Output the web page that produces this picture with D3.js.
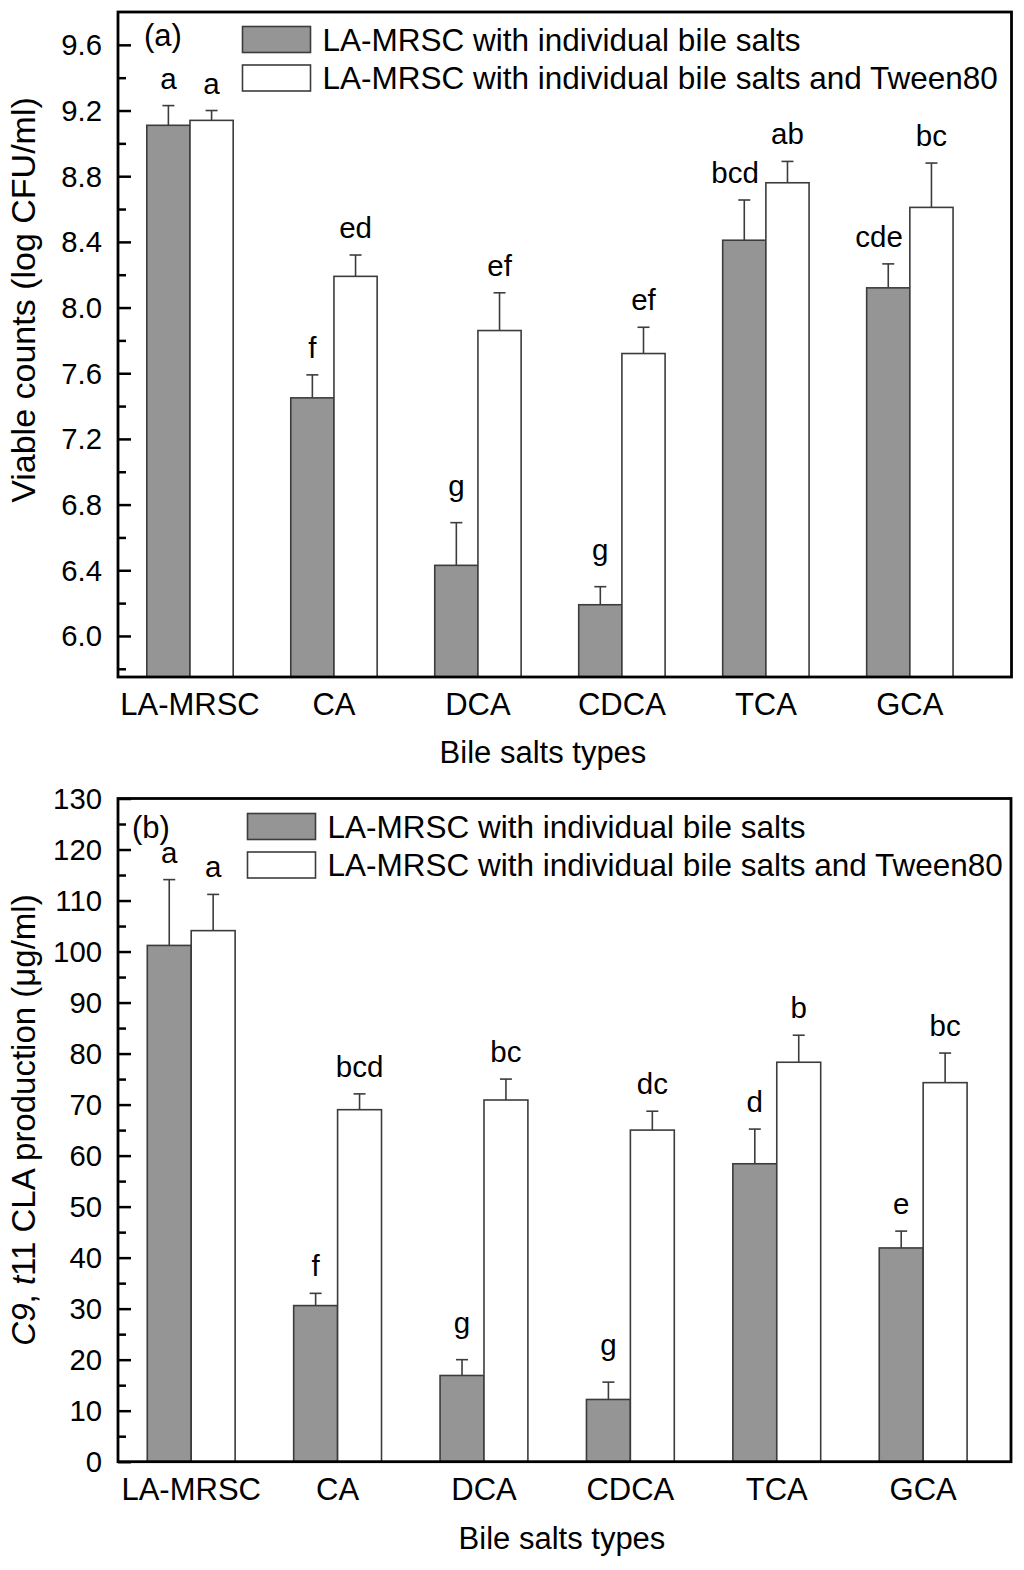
<!DOCTYPE html>
<html>
<head>
<meta charset="utf-8">
<script src="https://cdn.jsdelivr.net/npm/d3@7"></script>
<style>
  html, body { margin: 0; padding: 0; background: #fff; }
  svg { display: block; font-family: "Liberation Sans", Arial, sans-serif; }
</style>
</head>
<body>
<svg id="chart" width="1024" height="1570"></svg>
<script>
// ---------- data ----------
const categories = ["LA-MRSC", "CA", "DCA", "CDCA", "TCA", "GCA"];
const seriesNames = ["LA-MRSC with individual bile salts", "LA-MRSC with individual bile salts and Tween80"];

// panel (a): viable counts (log CFU/ml)
const viableBile      = [9.11, 7.45, 6.43, 6.19, 8.41, 8.12];
const viableBileErr   = [0.12, 0.14, 0.26, 0.11, 0.245, 0.146];
const viableTween     = [9.14, 8.19, 7.86, 7.72, 8.76, 8.61];
const viableTweenErr  = [0.06, 0.13, 0.23, 0.16, 0.13, 0.27];
const viableBileLetters  = ["a", "f", "g", "g", "bcd", "cde"];
const viableTweenLetters = ["a", "ed", "ef", "ef", "ab", "bc"];
const viableTicks = [6.0, 6.4, 6.8, 7.2, 7.6, 8.0, 8.4, 8.8, 9.2, 9.6];

// panel (b): c9,t11 CLA production (ug/ml)
const claBile      = [101.2, 30.6, 16.9, 12.2, 58.4, 41.9];
const claBileErr   = [12.9, 2.4, 3.1, 3.4, 6.8, 3.3];
const claTween     = [104.1, 69.0, 70.9, 65.0, 78.3, 74.3];
const claTweenErr  = [7.1, 3.1, 4.1, 3.7, 5.3, 5.8];
const claBileLetters  = ["a", "f", "g", "g", "d", "e"];
const claTweenLetters = ["a", "bcd", "bc", "dc", "b", "bc"];
const claTicks = [0, 10, 20, 30, 40, 50, 60, 70, 80, 90, 100, 110, 120, 130];

// ---------- drawing ----------
const svg = d3.select("#chart");
const GRAY = "#959595";
const EDGE = "#3c3c3c";

function panel(cfg) {
  const g = svg.append("g");
  const x = d3.scaleLinear().domain(cfg.xDomain).range([cfg.left, cfg.right]);
  const y = d3.scaleLinear().domain(cfg.yDomain).range([cfg.bottom, cfg.top]);
  const bw = x(0.3) - x(0);

  const series = [
    {vals: cfg.bile, errs: cfg.bileErr, letters: cfg.bileLetters, fill: GRAY, off: -1},
    {vals: cfg.tween, errs: cfg.tweenErr, letters: cfg.tweenLetters, fill: "#ffffff", off: 0}
  ];

  series.forEach(s => {
    const data = categories.map((c, i) => ({i, v: s.vals[i], e: s.errs[i], l: s.letters[i]}));
    const x0 = d => x(d.i + 1) + s.off * bw;
    // error bars (upper only)
    g.selectAll(null).data(data).enter().append("line")
      .attr("x1", d => x0(d) + bw / 2).attr("x2", d => x0(d) + bw / 2)
      .attr("y1", d => y(d.v)).attr("y2", d => y(d.v + d.e))
      .attr("stroke", EDGE).attr("stroke-width", 1.6);
    g.selectAll(null).data(data).enter().append("line")
      .attr("x1", d => x0(d) + bw / 2 - 6).attr("x2", d => x0(d) + bw / 2 + 6)
      .attr("y1", d => y(d.v + d.e)).attr("y2", d => y(d.v + d.e))
      .attr("stroke", EDGE).attr("stroke-width", 1.6);
    // bars
    g.selectAll(null).data(data).enter().append("rect")
      .attr("x", d => x0(d)).attr("width", bw)
      .attr("y", d => y(d.v)).attr("height", d => y(cfg.yDomain[0]) - y(d.v))
      .attr("fill", s.fill).attr("stroke", EDGE).attr("stroke-width", 1.6);
    // letters
    g.selectAll(null).data(data).enter().append("text")
      .attr("x", d => x0(d) + bw / 2)
      .attr("y", d => y(d.v + d.e) - (/[gpqy]/.test(d.l) ? 27 : 17))
      .attr("text-anchor", "middle").attr("font-size", 29.5).attr("fill", "#000")
      .text(d => d.l)
      .each(function(d) {
        if (s.off < 0) {
          const w = this.getComputedTextLength();
          const cx = Math.min(x0(d) + bw / 2, x0(d) + bw - 7 - w / 2);
          d3.select(this).attr("x", cx);
        }
      });
  });

  // y axis ticks (inward)
  const yAxis = d3.axisRight(y).tickValues(cfg.ticks).tickSize(13).tickFormat("");
  g.append("g").attr("transform", `translate(${cfg.left},0)`).call(yAxis)
    .call(a => a.select(".domain").remove())
    .call(a => a.selectAll("line").attr("stroke", "#000").attr("stroke-width", 2.5));
  const minorAxis = d3.axisRight(y).tickValues(cfg.minor).tickSize(8).tickFormat("");
  g.append("g").attr("transform", `translate(${cfg.left},0)`).call(minorAxis)
    .call(a => a.select(".domain").remove())
    .call(a => a.selectAll("line").attr("stroke", "#000").attr("stroke-width", 2.5));
  // tick labels
  g.selectAll(null).data(cfg.ticks).enter().append("text")
    .attr("x", cfg.left - 16).attr("y", d => y(d)).attr("dy", "0.36em")
    .attr("text-anchor", "end").attr("font-size", 29.3).text(d => cfg.fmt(d));

  // frame
  g.append("rect").attr("x", cfg.left).attr("y", cfg.top)
    .attr("width", cfg.right - cfg.left).attr("height", cfg.bottom - cfg.top)
    .attr("fill", "none").attr("stroke", "#000").attr("stroke-width", 2.8);

  // category labels
  g.selectAll(null).data(categories).enter().append("text")
    .attr("x", (d, i) => x(i + 1)).attr("y", cfg.catY)
    .attr("text-anchor", "middle").attr("font-size", 31).text(d => d);

  // x title
  g.append("text").attr("x", cfg.xTitleX).attr("y", cfg.xTitleY)
    .attr("text-anchor", "middle").attr("font-size", 31).text("Bile salts types");

  // y title
  const yt = g.append("text").attr("transform", `translate(${cfg.yTitleX},${cfg.yTitleY}) rotate(-90)`)
    .attr("text-anchor", "middle").attr("font-size", cfg.yTitleSize);
  cfg.yTitle.forEach(p => yt.append("tspan").attr("font-style", p.it ? "italic" : "normal").text(p.t));

  // panel label
  g.append("text").attr("x", cfg.tagX).attr("y", cfg.tagY).attr("font-size", 31).text(cfg.tag);

  // legend
  [GRAY, "#ffffff"].forEach((f, k) => {
    const ly = cfg.legY + k * cfg.legGap;
    g.append("rect").attr("x", cfg.legX).attr("y", ly).attr("width", 68).attr("height", 26)
      .attr("fill", f).attr("stroke", EDGE).attr("stroke-width", 1.6);
    g.append("text").attr("x", cfg.legX + 80).attr("y", ly + 13).attr("dy", "0.36em")
      .attr("font-size", 31.5).text(seriesNames[k]);
  });
}

panel({
  left: 118, right: 1011.5, top: 12, bottom: 677,
  xDomain: [0.5, 6.706], yDomain: [5.75, 9.8],
  bile: viableBile, bileErr: viableBileErr, bileLetters: viableBileLetters,
  tween: viableTween, tweenErr: viableTweenErr, tweenLetters: viableTweenLetters,
  ticks: viableTicks, minor: viableTicks.map(t => t - 0.2), fmt: d3.format(".1f"),
  catY: 715, xTitleX: 543, xTitleY: 763,
  yTitle: [{t: "Viable counts (log CFU/ml)"}], yTitleX: 35, yTitleY: 300, yTitleSize: 34,
  tag: "(a)", tagX: 144, tagY: 46,
  legX: 242.5, legY: 26.5, legGap: 38.5
});

panel({
  left: 118, right: 1011, top: 798.5, bottom: 1461.7,
  xDomain: [0.5, 6.6], yDomain: [0, 130],
  bile: claBile, bileErr: claBileErr, bileLetters: claBileLetters,
  tween: claTween, tweenErr: claTweenErr, tweenLetters: claTweenLetters,
  ticks: claTicks, minor: claTicks.slice(1).map(t => t - 5), fmt: d3.format("d"),
  catY: 1500, xTitleX: 562, xTitleY: 1549,
  yTitle: [{t: "C9", it: true}, {t: ", "}, {t: "t", it: true}, {t: "11 CLA production (μg/ml)"}],
  yTitleX: 35, yTitleY: 1120, yTitleSize: 33,
  tag: "(b)", tagX: 132, tagY: 838,
  legX: 247.5, legY: 813.5, legGap: 38.5
});
</script>
</body>
</html>
